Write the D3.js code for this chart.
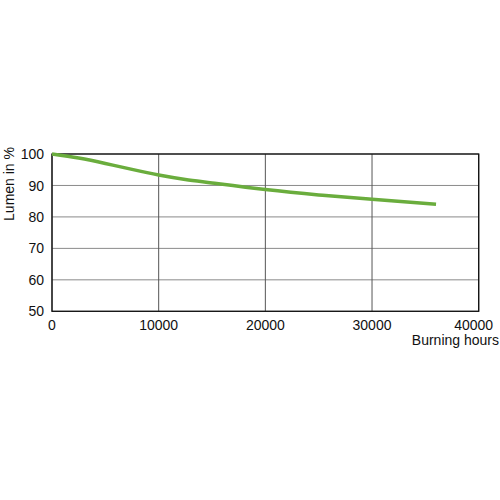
<!DOCTYPE html>
<html>
<head>
<meta charset="utf-8">
<script src="https://cdn.jsdelivr.net/npm/d3@7"></script>
<style>
  html, body { margin: 0; padding: 0; background: #fff; }
  text { font-family: "Liberation Sans", Arial, sans-serif; }
</style>
</head>
<body>
<svg id="chart" width="500" height="500"></svg>
<script>
const hours = [0, 2500, 5000, 7500, 10000, 12500, 15000, 20000, 25000, 30000, 36000];
const lumen = [100, 98.7, 97.0, 95.1, 93.3, 91.9, 90.8, 88.7, 87.0, 85.6, 84.0];
const xTicks = [0, 10000, 20000, 30000, 40000];
const yTicks = [50, 60, 70, 80, 90, 100];

(function () {
const svg = d3.select("#chart");
const pL = 52, pR = 478.7, pT = 154, pB = 311.3;

const x = d3.scaleLinear().domain([0, 40000]).range([pL, pR]);
const y = d3.scaleLinear().domain([50, 100]).range([pB, pT]);

// grid
svg.append("g").selectAll("line").data(yTicks).join("line")
  .attr("x1", pL).attr("x2", pR)
  .attr("y1", d => y(d)).attr("y2", d => y(d))
  .attr("stroke", "#8a8a8a").attr("stroke-width", 1);
svg.append("g").selectAll("line").data(xTicks).join("line")
  .attr("y1", pT).attr("y2", pB)
  .attr("x1", d => x(d)).attr("x2", d => x(d))
  .attr("stroke", "#555").attr("stroke-width", 1);

// border
svg.append("rect").attr("x", pL).attr("y", pT)
  .attr("width", pR - pL).attr("height", pB - pT)
  .attr("fill", "none").attr("stroke", "#111").attr("stroke-width", 1.3);

// y tick labels
svg.append("g").selectAll("text").data(yTicks).join("text")
  .attr("x", 44).attr("y", d => y(d)).attr("dy", "0.36em")
  .attr("text-anchor", "end").attr("font-size", 14).attr("fill", "#111")
  .text(d => d);

// x tick labels
svg.append("g").selectAll("text").data(xTicks).join("text")
  .attr("x", (d, i) => x(d) - (i === xTicks.length - 1 ? 5 : 0)).attr("y", 330)
  .attr("text-anchor", "middle").attr("font-size", 14).attr("fill", "#111")
  .text(d => d);

// axis titles
svg.append("text").attr("x", 499).attr("y", 345)
  .attr("text-anchor", "end").attr("font-size", 14).attr("fill", "#111")
  .text("Burning hours");
svg.append("text").attr("transform", "translate(14,147) rotate(-90)")
  .attr("text-anchor", "end").attr("font-size", 14).attr("fill", "#111")
  .text("Lumen in %");

// curve
const data = hours.map((h, i) => ({h, v: lumen[i]}));
svg.append("path").datum(data)
  .attr("d", d3.line().x(d => x(d.h)).y(d => y(d.v)).curve(d3.curveNatural))
  .attr("fill", "none").attr("stroke", "#6aad3d").attr("stroke-width", 3.5)
  .attr("stroke-linecap", "butt");
})();
</script>
</body>
</html>
